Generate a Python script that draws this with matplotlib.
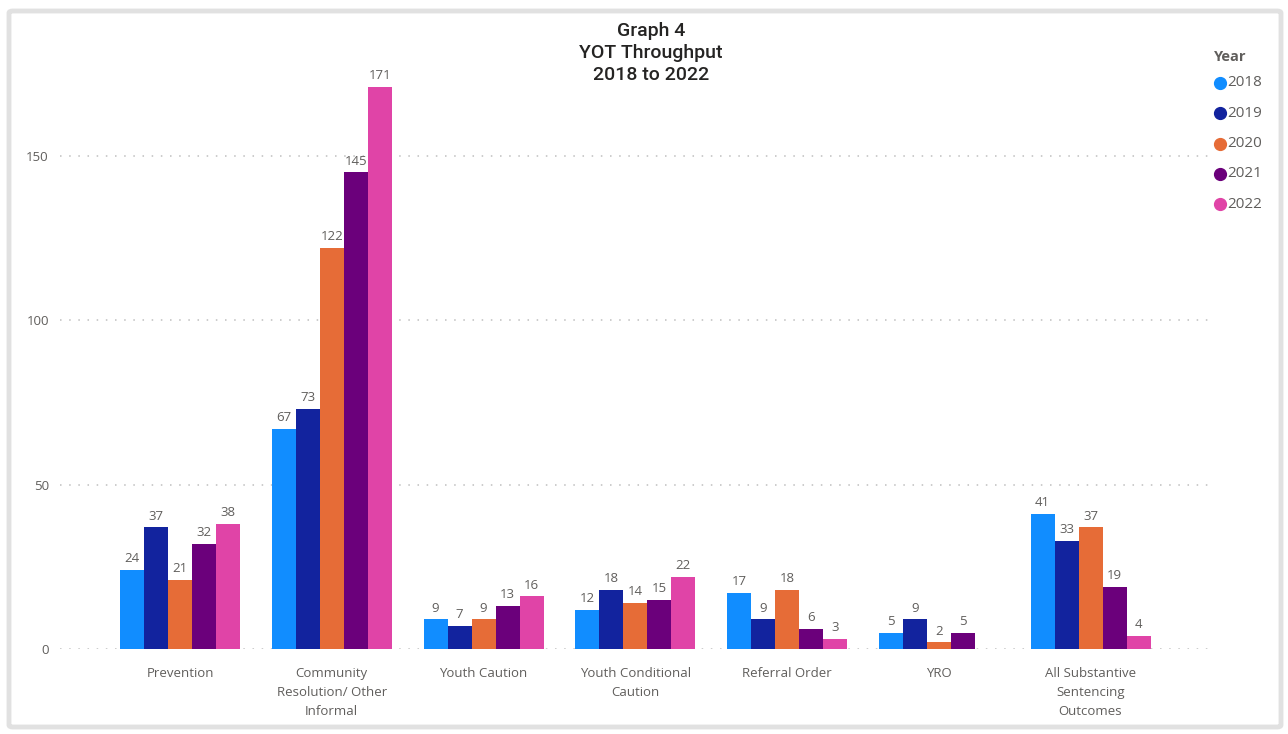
import numpy as np
import matplotlib
matplotlib.use("Agg")
import matplotlib.pyplot as plt
from matplotlib.patches import FancyBboxPatch

categories = [
    "Prevention",
    "Community\nResolution/ Other\nInformal",
    "Youth Caution",
    "Youth Conditional\nCaution",
    "Referral Order",
    "YRO",
    "All Substantive\nSentencing\nOutcomes",
]
years = ["2018", "2019", "2020", "2021", "2022"]
v2018 = [24, 67, 9, 12, 17, 5, 41]
v2019 = [37, 73, 7, 18, 9, 9, 33]
v2020 = [21, 122, 9, 14, 18, 2, 37]
v2021 = [32, 145, 13, 15, 6, 5, 19]
v2022 = [38, 171, 16, 22, 3, None, 4]
series = [v2018, v2019, v2020, v2021, v2022]
colors = ["#118DFF", "#12239E", "#E66C37", "#6B007B", "#E044A7"]
yticks = [0, 50, 100, 150]

W, H = 1288, 734
fig = plt.figure(figsize=(W / 100, H / 100), dpi=100)
fig.patch.set_facecolor("white")

# card frame
frame = FancyBboxPatch((9 / W, 7 / H), 1272 / W, 716 / H,
                       boxstyle="round,pad=0,rounding_size=0.003",
                       transform=fig.transFigure, facecolor="none",
                       edgecolor="#E1E1E1", linewidth=3.5, zorder=-1)
fig.patches.append(frame)

px_per_unit = (649 - 156) / 150
ytop = 180
ax = fig.add_axes([60 / W, (H - 649) / H, (1215 - 60) / W, ytop * px_per_unit / H])
ax.set_facecolor("none")

step = (1090.5 - 180) / 6
x0 = -(180 - 60) / step
x1 = 6 + (1215 - 1090.5) / step
ax.set_xlim(x0, x1)
ax.set_ylim(0, ytop)

n = len(series)
bw = 24 / step
x = np.arange(len(categories))
label_font = "Open Sans"
for i, (vals, col) in enumerate(zip(series, colors)):
    offs = (i - (n - 1) / 2) * bw
    for j, v in enumerate(vals):
        if v is None:
            continue
        ax.bar(x[j] + offs, v, width=bw, color=col, edgecolor="none", zorder=3)
        ax.annotate(str(v), (x[j] + offs, v), xytext=(0, 3.5), textcoords="offset points",
                    ha="center", va="bottom", fontsize=9.5, color="#605E5C",
                    family=label_font, zorder=4)

ax.set_yticks(yticks)
ax.set_yticklabels([str(t) for t in yticks], fontsize=9.5, color="#605E5C", family=label_font)
ax.set_xticks(x)
ax.set_xticklabels(categories, fontsize=9.5, color="#605E5C", family=label_font,
                   linespacing=1.62, va="top")
ax.tick_params(axis="both", length=0)
ax.tick_params(axis="x", pad=13)
ax.tick_params(axis="y", pad=8)
for s in ax.spines.values():
    s.set_visible(False)
ax.yaxis.grid(True, linestyle=(0, (1, 5)), color="#BEBEBE", linewidth=1.1, zorder=0)
ax.set_axisbelow(True)

fig.text(651 / W, 1 - 53 / H, "Graph 4\nYOT Throughput\n2018 to 2022",
         ha="center", va="center", fontsize=14, color="#252423",
         family="Roboto", fontweight="medium", linespacing=1.27)

# legend
fig.text(1214 / W, 1 - 57 / H, "Year", ha="left", va="center", fontsize=10.5,
         fontweight="bold", color="#605E5C", family=label_font)
for k, (yr, col) in enumerate(zip(years, colors)):
    yy = 1 - (83 + k * 30.3) / H
    fig.lines.append(plt.Line2D([1220 / W], [yy], marker="o", markersize=8.5,
                                color=col, transform=fig.transFigure))
    fig.text(1227 / W, yy, yr, ha="left", va="center", fontsize=11,
             color="#605E5C", family=label_font)

fig.savefig("out.png", dpi=100)
